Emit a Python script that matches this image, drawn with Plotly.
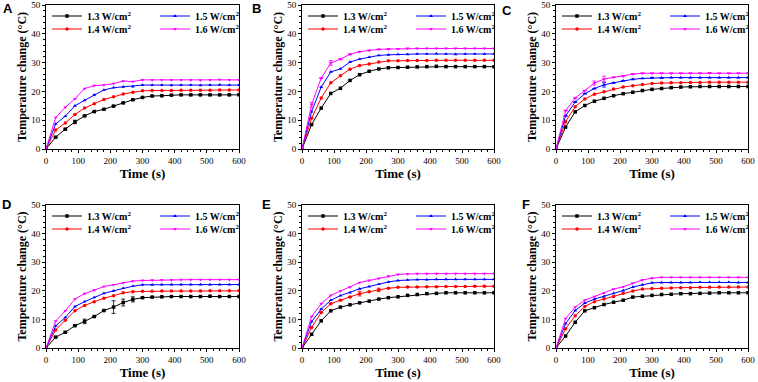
import plotly.graph_objects as go

TIME = [0, 30, 60, 90, 120, 150, 180, 210, 240, 270, 300, 330, 360, 390, 420, 450, 480, 510, 540, 570, 600]
SERIES_NAMES = ["1.3 W/cm<sup>2</sup>", "1.4 W/cm<sup>2</sup>", "1.5 W/cm<sup>2</sup>", "1.6 W/cm<sup>2</sup>"]
PANELS = ["A", "B", "C", "D", "E", "F"]

A13 = [0, 4.1, 6.9, 9.4, 11.5, 13.0, 13.8, 14.9, 16.0, 17.1, 17.9, 18.4, 18.5, 18.7, 18.8, 18.8, 18.8, 18.8, 18.8, 18.8, 18.8]
A14 = [0, 6.6, 9.0, 12.0, 14.2, 15.7, 17.2, 18.1, 19.1, 19.7, 20.2, 20.3, 20.3, 20.3, 20.4, 20.4, 20.4, 20.4, 20.5, 20.5, 20.5]
A15 = [0, 8.7, 11.4, 15.0, 16.9, 18.8, 20.5, 21.3, 21.6, 21.7, 22.2, 22.2, 22.2, 22.1, 22.2, 22.2, 22.1, 22.2, 22.3, 22.2, 22.2]
A16 = [0, 10.9, 14.5, 17.4, 21.0, 22.0, 22.2, 22.7, 23.6, 23.4, 24.0, 24.0, 24.0, 24.0, 24.0, 24.0, 23.9, 24.0, 24.1, 24.0, 24.0]

B13 = [0, 8.5, 14.2, 19.3, 21.1, 23.8, 25.8, 27.0, 27.8, 28.2, 28.3, 28.4, 28.5, 28.6, 28.7, 28.6, 28.6, 28.6, 28.6, 28.6, 28.6]
B14 = [0, 10.7, 17.7, 23.0, 25.4, 27.7, 29.0, 29.5, 30.2, 30.6, 30.6, 30.7, 30.7, 30.7, 30.8, 30.8, 30.8, 30.8, 30.8, 30.8, 30.8]
B15 = [0, 13.0, 21.5, 26.8, 27.8, 30.2, 31.2, 31.9, 32.5, 32.7, 32.9, 32.9, 33.0, 33.0, 33.1, 33.0, 32.9, 33.0, 33.0, 33.0, 33.0]
B16 = [0, 15.4, 24.6, 29.9, 31.2, 32.9, 33.8, 34.2, 34.6, 34.7, 34.8, 34.9, 34.9, 34.9, 34.9, 34.9, 34.9, 34.9, 34.9, 34.9, 34.9]

C13 = [0, 7.6, 12.9, 15.1, 16.6, 17.6, 18.5, 19.2, 19.7, 20.3, 20.7, 21.0, 21.3, 21.5, 21.6, 21.7, 21.7, 21.7, 21.7, 21.7, 21.7]
C14 = [0, 9.5, 14.7, 17.4, 19.0, 19.9, 20.8, 21.5, 22.0, 22.4, 22.7, 22.9, 23.0, 23.0, 23.1, 23.1, 23.2, 23.2, 23.2, 23.2, 23.2]
C15 = [0, 11.5, 16.3, 19.2, 21.0, 22.3, 23.0, 23.7, 24.2, 24.5, 24.7, 24.7, 24.8, 24.8, 24.8, 24.8, 24.8, 24.8, 24.8, 24.8, 24.8]
C16 = [0, 13.3, 17.7, 20.3, 22.9, 24.3, 24.9, 25.3, 26.0, 26.3, 26.3, 26.3, 26.3, 26.3, 26.3, 26.3, 26.4, 26.3, 26.3, 26.3, 26.3]

D13 = [0, 3.8, 5.5, 7.8, 9.3, 11.0, 13.1, 14.3, 15.9, 17.0, 17.6, 17.8, 17.9, 18.0, 18.0, 18.0, 18.0, 18.1, 18.0, 18.0, 18.0]
D14 = [0, 6.3, 9.7, 13.0, 14.9, 16.2, 17.4, 18.3, 19.3, 19.7, 19.8, 19.8, 19.9, 19.9, 19.9, 19.9, 19.9, 20.0, 20.0, 20.0, 20.0]
D15 = [0, 7.7, 10.7, 14.5, 16.2, 17.7, 19.1, 20.0, 20.9, 21.6, 22.1, 22.1, 22.2, 22.2, 22.2, 22.2, 22.2, 22.2, 22.2, 22.2, 22.2]
D16 = [0, 9.4, 13.0, 17.1, 19.0, 20.2, 21.5, 22.1, 22.8, 23.4, 23.6, 23.7, 23.8, 23.8, 23.9, 23.9, 23.9, 23.9, 23.9, 23.9, 23.9]

E13 = [0, 4.8, 9.5, 13.0, 14.3, 15.1, 15.8, 16.4, 17.1, 17.6, 17.9, 18.4, 18.7, 19.0, 19.1, 19.3, 19.3, 19.3, 19.3, 19.3, 19.3]
E14 = [0, 7.2, 12.4, 15.5, 16.7, 17.8, 19.0, 19.7, 20.3, 20.9, 21.2, 21.3, 21.3, 21.4, 21.4, 21.5, 21.5, 21.5, 21.6, 21.6, 21.6]
E15 = [0, 9.2, 13.6, 16.7, 18.3, 19.4, 20.7, 21.5, 22.3, 23.1, 23.6, 23.8, 23.9, 23.9, 24.0, 24.0, 24.0, 24.0, 24.0, 24.0, 24.0]
E16 = [0, 11.0, 15.5, 18.4, 19.9, 21.3, 22.9, 23.6, 24.3, 25.1, 25.7, 25.9, 26.0, 26.0, 26.0, 26.0, 26.0, 26.0, 26.0, 26.0, 26.0]

F13 = [0, 4.2, 9.0, 13.0, 14.1, 15.2, 16.0, 16.7, 17.8, 18.1, 18.4, 18.7, 18.8, 19.0, 19.0, 19.1, 19.2, 19.3, 19.3, 19.3, 19.3]
F14 = [0, 6.7, 11.3, 14.5, 16.2, 17.1, 18.0, 19.1, 19.9, 20.6, 20.8, 20.9, 21.0, 21.1, 21.1, 21.2, 21.2, 21.3, 21.3, 21.3, 21.3]
F15 = [0, 8.5, 13.1, 15.7, 17.1, 18.0, 19.1, 20.1, 21.3, 22.1, 22.8, 22.9, 22.9, 22.9, 22.9, 23.0, 23.0, 23.0, 23.0, 22.9, 22.9]
F16 = [0, 10.3, 14.3, 16.7, 18.0, 19.2, 20.6, 21.4, 22.7, 23.8, 24.4, 24.7, 24.7, 24.7, 24.7, 24.7, 24.7, 24.7, 24.7, 24.7, 24.7]

DATA = {
    "A": [A13, A14, A15, A16], "B": [B13, B14, B15, B16], "C": [C13, C14, C15, C16],
    "D": [D13, D14, D15, D16], "E": [E13, E14, E15, E16], "F": [F13, F14, F15, F16],
}

# visible error bars (panel, series index) -> {time: half-width}
ERRORS = {
    ("A", 0): {90: 0.6},
    ("B", 3): {30: 0.8, 90: 0.8},
    ("C", 2): {150: 0.8},
    ("C", 3): {120: 0.7, 150: 1.0},
    ("D", 0): {120: 0.8, 210: 2.2, 240: 1.2, 270: 0.9},
    ("E", 1): {180: 0.8, 240: 0.6},
}

COLORS = ["#000000", "#ff0000", "#0000ff", "#ff00ff"]
SYMBOLS = ["square", "circle", "triangle-up", "triangle-down"]

W, H = 758, 382
COL_PX = [(46, 239), (302, 494), (556, 748)]
ROW_PX = [(5, 149), (205, 348)]
LETTER_POS = {"A": (8, 9), "B": (256, 8), "C": (507, 11), "D": (6, 204), "E": (266, 204), "F": (526, 204)}

SERIF = "Liberation Serif, Times New Roman, serif"

fig = go.Figure()
layout = dict(width=W, height=H, margin=dict(l=0, r=0, t=0, b=0, autoexpand=False),
              paper_bgcolor="white", plot_bgcolor="white", showlegend=True,
              annotations=[])

for i, p in enumerate(PANELS):
    r, c = divmod(i, 3)
    x0, x1 = COL_PX[c]
    y0, y1 = ROW_PX[r]
    ax = "" if i == 0 else str(i + 1)
    leg_top = "legend" if i == 0 else f"legend{2 * i + 1}"
    leg_bot = f"legend{2 * i + 2}"
    for s in range(4):
        err = ERRORS.get((p, s), {})
        arr = [err.get(t, 0) for t in TIME]
        fig.add_trace(go.Scatter(
            x=TIME, y=DATA[p][s], name=SERIES_NAMES[s], mode="lines+markers",
            xaxis="x" + ax, yaxis="y" + ax,
            line=dict(color=COLORS[s], width=1),
            marker=dict(symbol=SYMBOLS[s], size=3.5, color=COLORS[s]),
            error_y=dict(type="data", array=arr, visible=bool(err), color=COLORS[s], thickness=0.8, width=2),
            legend=leg_top if s in (0, 2) else leg_bot,
        ))
    common = dict(showline=True, linecolor="black", linewidth=1, mirror=True,
                  ticks="outside", ticklen=3, tickwidth=1, tickcolor="black",
                  showgrid=False, zeroline=False, automargin=False,
                  tickfont=dict(family=SERIF, size=9, color="black"),
                  minor=dict(ticks="outside", ticklen=2, tickwidth=1, tickcolor="black"))
    layout["xaxis" + ax] = dict(common, domain=[x0 / W, x1 / W], range=[0, 600], dtick=100,
                                anchor="y" + ax,
                                title=dict(text="Time (s)", standoff=3,
                                           font=dict(family=SERIF, size=13, color="black", weight="bold")))
    layout["yaxis" + ax] = dict(common, domain=[1 - y1 / H, 1 - y0 / H], range=[0, 50], dtick=10,
                                anchor="x" + ax,
                                title=dict(text="Temperature change (°C)", standoff=2,
                                           font=dict(family=SERIF, size=12, color="black", weight="bold")))
    legfont = dict(family=SERIF, size=10, color="black", weight="bold")
    for k, (lid, ypx) in enumerate([(leg_top, y0 + 11), (leg_bot, y0 + 24)]):
        layout[lid] = dict(orientation="h", x=(x0 + 1) / W, xanchor="left", y=1 - ypx / H, yanchor="middle",
                           bgcolor="rgba(0,0,0,0)", font=legfont, entrywidth=63, itemwidth=30,
                           tracegroupgap=0)
    lx, ly = LETTER_POS[p]
    layout["annotations"].append(dict(text="<b>%s</b>" % p, x=lx / W, y=1 - ly / H, xref="paper", yref="paper",
                                      showarrow=False, xanchor="center", yanchor="middle",
                                      font=dict(family="Liberation Sans, Arial, sans-serif", size=13, color="black")))

fig.update_layout(**layout)
fig.write_html("out.html", config={"displayModeBar": False},
               post_script="document.body.style.margin='0';document.body.style.padding='0';")
